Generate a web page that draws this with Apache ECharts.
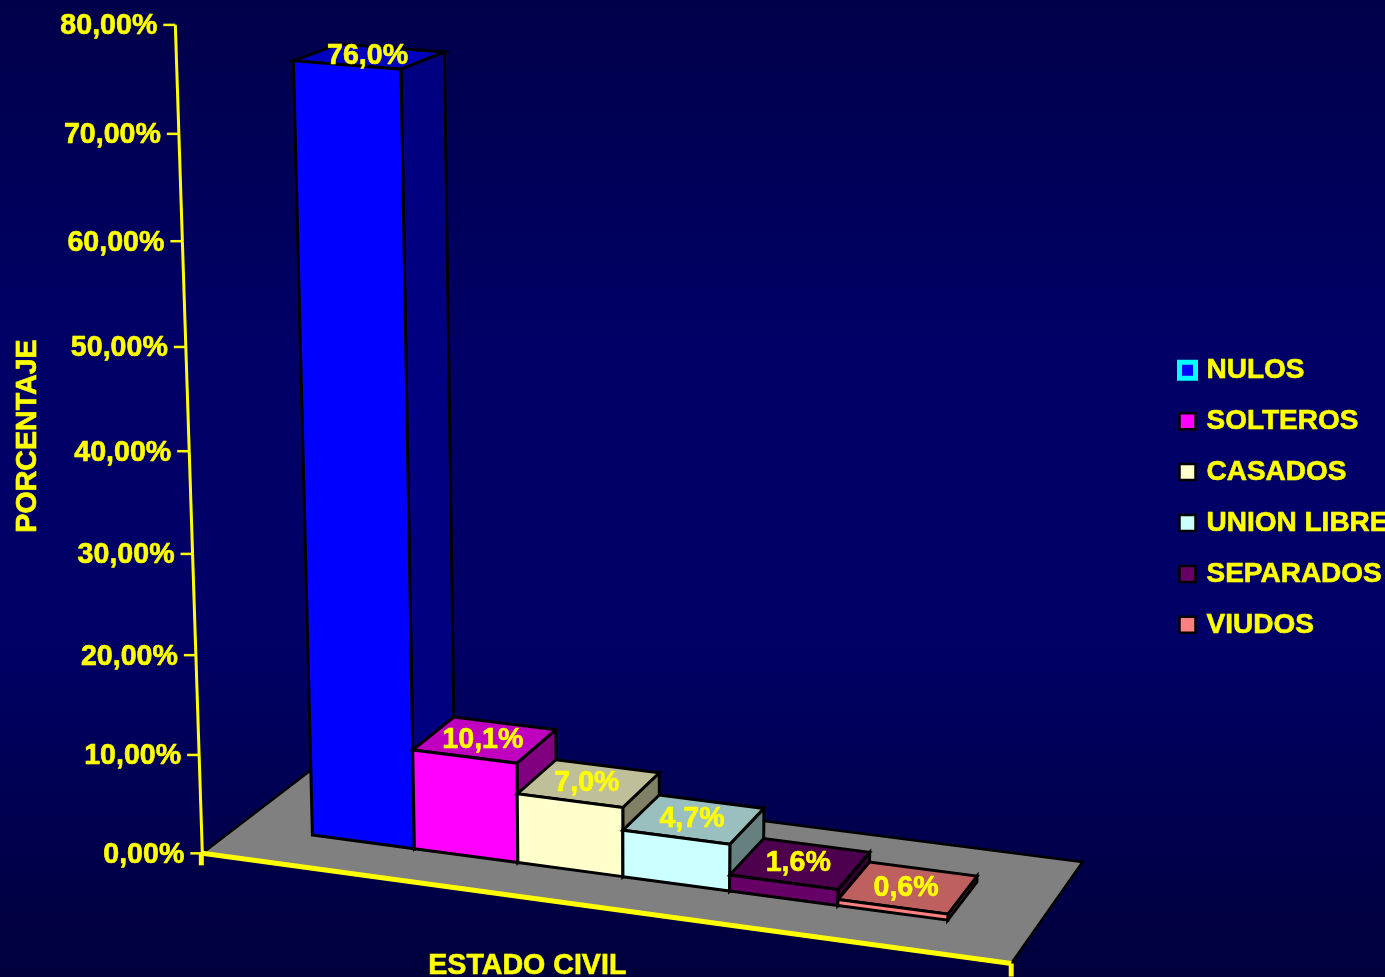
<!DOCTYPE html>
<html><head><meta charset="utf-8">
<style>html,body{margin:0;padding:0;background:#000060}#c{width:1385px;height:977px}</style>
<script src="https://cdn.jsdelivr.net/npm/echarts@6/dist/echarts.min.js"></script>
</head><body><div id="c"></div>
<script>
const categories = ['NULOS','SOLTEROS','CASADOS','UNION LIBRE','SEPARADOS','VIUDOS'];
const values = [76.0,10.1,7.0,4.7,1.6,0.6];
const valueLabels = ['76,0%','10,1%','7,0%','4,7%','1,6%','0,6%'];
const valueTicks = [0,10,20,30,40,50,60,70,80];
const tickLabels = ['0,00%','10,00%','20,00%','30,00%','40,00%','50,00%','60,00%','70,00%','80,00%'];
const barColors = ['#0000FF','#FF00FF','#FFFFCC','#CCFFFF','#660066','#FF8080'];

// Camera calibration of the 3-D view: [axis x, axis value, depth, picture x, picture y, weight]
const X_MIN=-0.73, X_MAX=6.77, V_MAX=80, D0=0.30, D1=0.68;
const camera = [
 [X_MIN,0,0,202,853,6],[X_MAX,0,0,1011,964,6],[X_MAX,0,1,1082,862,6],[X_MIN,0,1,318,766,3],
 [X_MIN,80,0,175.7,24,6],[X_MIN,70,0,179,134,3],[X_MIN,60,0,182,241,3],[X_MIN,50,0,185.6,348,3],[X_MIN,40,0,189.2,452,3],
 [X_MIN,30,0,192.8,554,3],[X_MIN,20,0,196.4,655,3],[X_MIN,10,0,200,754,3],
 [0,0,D0,314,835],[1,0,D0,413,849],[2,0,D0,517,864],[3,0,D0,622,877],[4,0,D0,729,891],[5,0,D0,838,906],[6,0,D0,948,923],
 [0,76,D0,293,60,4],[1,76,D0,400,71,4],[1,76,D1,445,52,4],
 [1,10.1,D0,414,750],[2,10.1,D0,515,762],[2,10.1,D1,558,728,2],[1,10.1,D1,455,717,2],
 [3,7,D0,622,808],[3,7,D1,659,771,2],[4,4.7,D0,729,846],[4,4.7,D1,763,806,2],
 [5,1.6,D0,837,891],[5,1.6,D1,871,851,2],[6,0.6,D0,948,914],[6,0.6,D1,980,875,2]
];
function solve(A,b){const n=b.length;for(let i=0;i<n;i++){let m=i;for(let r=i+1;r<n;r++)if(Math.abs(A[r][i])>Math.abs(A[m][i]))m=r;
 [A[i],A[m]]=[A[m],A[i]];[b[i],b[m]]=[b[m],b[i]];
 for(let r=i+1;r<n;r++){const f=A[r][i]/A[i][i];for(let c=i;c<n;c++)A[r][c]-=f*A[i][c];b[r]-=f*b[i];}}
 const x=new Array(n);for(let i=n-1;i>=0;i--){let s=b[i];for(let c=i+1;c<n;c++)s-=A[i][c]*x[c];x[i]=s/A[i][i];}return x;}
const nu=x=>(x-X_MIN)/(X_MAX-X_MIN), nw=v=>v/V_MAX;
const H=(function(){const N=11,A=[],b=new Array(N).fill(0);for(let i=0;i<N;i++)A.push(new Array(N).fill(0));
 camera.forEach(c=>{const u=nu(c[0]),w=nw(c[1]),d=c[2],X=c[3]/1000,Y=c[4]/1000,W=c[5]||1;
  [[[u,w,d,1,0,0,0,0,-X*u,-X*w,-X*d],X],[[0,0,0,0,u,w,d,1,-Y*u,-Y*w,-Y*d],Y]].forEach(([r,t])=>{
   for(let i=0;i<N;i++){b[i]+=W*r[i]*t;for(let j=0;j<N;j++)A[i][j]+=W*r[i]*r[j];}});});
 return solve(A,b);})();
function project(u,w,d){const q=H[8]*u+H[9]*w+H[10]*d+1;
 return [1000*(H[0]*u+H[1]*w+H[2]*d+H[3])/q,1000*(H[4]*u+H[5]*w+H[6]*d+H[7])/q];}
// axis value pair goes through ECharts' scale, then through the camera
function P(params,api,x,v,d){const cs=params.coordSys,p=api.coord([x,v]);
 return project((p[0]-cs.x)/cs.width,(cs.y+cs.height-p[1])/cs.height,d);}

const FAMILY='"Liberation Sans", Arial, sans-serif', FONT='bold 28.6px '+FAMILY, YELLOW='#FFFF00';
const txt=o=>Object.assign({fill:YELLOW,font:FONT,stroke:YELLOW,lineWidth:0.6},o);
function shade(hex,k){const n=parseInt(hex.slice(1),16);
 return 'rgb('+[(n>>16)&255,(n>>8)&255,n&255].map(c=>Math.round(c*k)).join(',')+')';}
function poly(points,fill,stroke,lw){return {type:'polygon',shape:{points},silent:true,
 style:{fill,stroke,lineWidth:lw,lineJoin:'miter'}};}
function seg(a,b,lw){return {type:'line',shape:{x1:a[0],y1:a[1],x2:b[0],y2:b[1]},silent:true,
 style:{stroke:YELLOW,lineWidth:lw,lineCap:'butt'}};}

const barSeries = categories.map((name,i)=>({
 name,type:'custom',coordinateSystem:'cartesian2d',
 itemStyle:{color:barColors[i]},
 data:[[i,values[i]]],
 renderItem(params,api){
  const x=api.value(0),v=api.value(1),c=barColors[i],K=3,g=(a,b,d)=>P(params,api,a,b,d);
  const fb0=g(x,0,D0),fb1=g(x+1,0,D0),ft0=g(x,v,D0),ft1=g(x+1,v,D0),
        bb1=g(x+1,0,D1),bt0=g(x,v,D1),bt1=g(x+1,v,D1),ctr=g(x+0.5,v,(D0+D1)/2);
  return {type:'group',children:[
   poly([fb1,bb1,bt1,ft1],shade(c,0.5),'#000',K),
   poly([ft0,ft1,bt1,bt0],shade(c,0.75),'#000',K),
   poly([fb0,fb1,ft1,ft0],c,'#000',K),
   {type:'text',silent:true,style:txt({text:valueLabels[i],x:ctr[0]-2,y:ctr[1],align:'center',verticalAlign:'middle'})}
  ]};
 }
}));

const option = {
 animation:false,
 backgroundColor:{type:'linear',x:0,y:0,x2:0,y2:1,colorStops:[
  {offset:0,color:'#00004A'},{offset:0.35,color:'#000066'},{offset:0.65,color:'#000066'},{offset:1,color:'#00003C'}]},
 grid:{left:0,right:0,top:0,bottom:0},
 xAxis:{type:'value',min:X_MIN,max:X_MAX,show:false},
 yAxis:{type:'value',min:0,max:V_MAX,interval:10,show:false},
 legend:{orient:'vertical',left:1172,top:351,icon:'rect',itemWidth:16,itemHeight:16,itemGap:22.3,selectedMode:false,
  textStyle:{color:YELLOW,fontFamily:FAMILY,fontWeight:'bold',fontSize:28,padding:[0,0,0,6],textBorderColor:YELLOW,textBorderWidth:0.6},
  data:categories.map((name,i)=>({name,itemStyle:{color:barColors[i],
   borderColor:i===0?'#00FFFF':'#000000',borderWidth:i===0?5:2.5}}))},
 graphic:[
  {type:'text',left:428,top:951,silent:true,style:txt({text:'ESTADO CIVIL'})},
  {type:'text',x:28,y:436,rotation:Math.PI/2,silent:true,style:txt({text:'PORCENTAJE',align:'center',verticalAlign:'middle'})}
 ],
 series:[
  {name:'suelo',type:'custom',coordinateSystem:'cartesian2d',data:[[X_MIN,0]],
   renderItem(params,api){const g=(a,d)=>P(params,api,a,0,d);
    const a=g(X_MIN,0),b=g(X_MAX,0),c=g(X_MAX,1),e=g(X_MIN,1);
    return {type:'group',children:[
     poly([a,b,c,e],'#808080','#000',2.5),
     seg(a,b,5),
     seg([a[0]-1,a[1]],[a[0]-1,a[1]+12],5),
     seg([b[0],b[1]],[b[0],b[1]+13],5)
    ]};}},
  {name:'eje',type:'custom',coordinateSystem:'cartesian2d',data:valueTicks.map(v=>[X_MIN,v]),
   renderItem(params,api){const v=api.value(1),p=P(params,api,X_MIN,v,0);
    const ch=[seg([p[0]-12,p[1]],[p[0],p[1]],2.5),
     {type:'text',silent:true,style:txt({text:tickLabels[params.dataIndex],x:p[0]-18,y:p[1]+1.5,align:'right',verticalAlign:'middle'})}];
    if(params.dataIndex<valueTicks.length-1){const n=P(params,api,X_MIN,valueTicks[params.dataIndex+1],0);ch.push(seg(p,n,3));}
    return {type:'group',children:ch};}},
  ...barSeries
 ]
};
echarts.init(document.getElementById('c')).setOption(option);
</script></body></html>
